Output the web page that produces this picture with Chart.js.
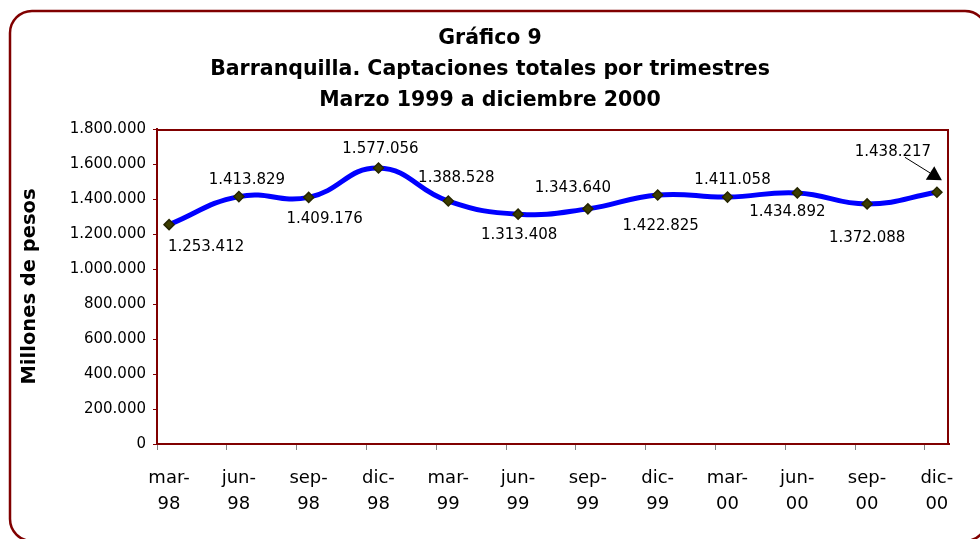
<!DOCTYPE html>
<html>
<head>
<meta charset="utf-8">
<script src="https://cdn.jsdelivr.net/npm/chart.js@4.4.1/dist/chart.umd.min.js"></script>
<style>
html,body{margin:0;padding:0;background:#ffffff;}
#wrap{width:980px;height:539px;position:relative;}
</style>
</head>
<body>
<div id="wrap"><canvas id="c" width="980" height="539"></canvas></div>
<script>
// ---- data ----
const categories = ['mar-98','jun-98','sep-98','dic-98','mar-99','jun-99','sep-99','dic-99','mar-00','jun-00','sep-00','dic-00'];
const captaciones = [1253412,1413829,1409176,1577056,1388528,1313408,1343640,1422825,1411058,1434892,1372088,1438217];
const yTickValues = [0,200000,400000,600000,800000,1000000,1200000,1400000,1600000,1800000];
const titleLines = ['Gráfico 9','Barranquilla. Captaciones totales por trimestres','Marzo 1999 a diciembre 2000'];
const yAxisTitle = 'Millones de pesos';

// ---- label placement (pixels relative to each point) ----
const labelOffsets = [[37,22],[8,-16],[16,22],[2,-19],[8,-23],[1,21],[-15,-21],[3,31],[5,-17],[-10,19],[0,34],[-44,-40]];
const arrowFrom = [-32,-35], arrowTip = [5,-12];

const FONT = '"DejaVu Sans", "Liberation Sans", Arial, sans-serif';
const RED = '#800000';
const EDGE = 0.173; // category edge padding (fraction of step)

function fmt(n){ return String(n).replace(/\B(?=(\d{3})+(?!\d))/g,'.'); }

const points = captaciones.map((v,i)=>({x:i, y:v}));

const decor = {
  id:'decor',
  beforeDraw(chart){
    const ctx = chart.ctx;
    ctx.save();
    ctx.strokeStyle = RED;
    ctx.lineWidth = 2.5;
    const x=10, y=11, w=977, h=530, r=22;
    ctx.beginPath();
    ctx.moveTo(x+r,y);
    ctx.lineTo(x+w-r,y);
    ctx.arcTo(x+w,y,x+w,y+r,r);
    ctx.lineTo(x+w,y+h-r);
    ctx.arcTo(x+w,y+h,x+w-r,y+h,r);
    ctx.lineTo(x+r,y+h);
    ctx.arcTo(x,y+h,x,y+h-r,r);
    ctx.lineTo(x,y+r);
    ctx.arcTo(x,y,x+r,y,r);
    ctx.closePath();
    ctx.stroke();
    ctx.restore();
  },
  beforeDatasetsDraw(chart){
    const a = chart.chartArea, ctx = chart.ctx;
    ctx.save();
    ctx.strokeStyle = RED;
    ctx.lineWidth = 2;
    ctx.beginPath();
    ctx.moveTo(a.left, a.top+1);
    ctx.lineTo(a.right-1, a.top+1);
    ctx.lineTo(a.right-1, a.bottom);
    ctx.stroke();
    ctx.restore();
  },
  afterDatasetsDraw(chart){
    const ctx = chart.ctx;
    const meta = chart.getDatasetMeta(0);
    ctx.save();
    ctx.fillStyle = '#000';
    ctx.font = '15px ' + FONT;
    ctx.textAlign = 'center';
    ctx.textBaseline = 'middle';
    meta.data.forEach((pt,i)=>{
      const o = labelOffsets[i];
      ctx.fillText(fmt(captaciones[i]), pt.x+o[0], pt.y+o[1]);
    });
    // arrow to last point
    const last = meta.data[meta.data.length-1];
    const sx = last.x+arrowFrom[0], sy = last.y+arrowFrom[1];
    const tx = last.x+arrowTip[0], ty = last.y+arrowTip[1];
    const ang = Math.atan2(ty-sy, tx-sx);
    const L = 14, W = 8;
    const bx = tx - L*Math.cos(ang), by = ty - L*Math.sin(ang);
    ctx.strokeStyle = '#000';
    ctx.lineWidth = 1;
    ctx.beginPath();
    ctx.moveTo(sx,sy);
    ctx.lineTo(bx,by);
    ctx.stroke();
    ctx.beginPath();
    ctx.moveTo(tx,ty);
    ctx.lineTo(bx + W*Math.sin(ang), by - W*Math.cos(ang));
    ctx.lineTo(bx - W*Math.sin(ang), by + W*Math.cos(ang));
    ctx.closePath();
    ctx.fill();
    ctx.restore();
  }
};

new Chart(document.getElementById('c'), {
  type:'line',
  data:{
    datasets:[{
      data: points,
      borderColor:'#0000FF',
      borderWidth:5,
      tension:0.45,
      pointStyle:'rectRot',
      pointRadius:5,
      pointBorderWidth:1.5,
      pointBackgroundColor:'#3d3d00',
      pointBorderColor:'#262600',
      fill:false
    }]
  },
  options:{
    responsive:false,
    animation:false,
    layout:{padding:{left:0,right:0,top:0,bottom:0}},
    plugins:{
      legend:{display:false},
      tooltip:{enabled:false},
      title:{
        display:true,
        text:titleLines,
        color:'#000',
        font:{family:FONT, size:20.5, weight:'bold', lineHeight:31/20.5},
        padding:{top:23.5, bottom:12.5}
      }
    },
    scales:{
      x:{
        type:'linear',
        min:-EDGE,
        max:categories.length-1+EDGE,
        afterBuildTicks(s){ s.ticks = categories.map((c,i)=>({value:i-EDGE})); },
        afterFit(s){ s.height = 95; },
        grid:{display:true, drawOnChartArea:false, drawTicks:true, tickLength:6, color:'#808080', tickColor:'#808080'},
        border:{display:true, color:RED, width:2},
        ticks:{
          autoSkip:false, maxRotation:0, minRotation:0,
          labelOffset:12,
          padding:15,
          color:'#000',
          font:{family:FONT, size:18, lineHeight:26/18},
          callback:(v,i)=>{ const p = categories[i].split('-'); return [p[0]+'-', p[1]]; }
        }
      },
      y:{
        type:'linear',
        min:0, max:1800000,
        afterBuildTicks(s){ s.ticks = yTickValues.map(v=>({value:v})); },
        afterFit(s){ s.width = 157; },
        grid:{display:true, drawOnChartArea:false, drawTicks:true, tickLength:4, color:RED, tickColor:RED},
        border:{display:true, color:RED, width:2},
        ticks:{padding:7, color:'#000', font:{family:FONT, size:15}, callback:v=>fmt(v)},
        title:{display:true, text:yAxisTitle, color:'#000', font:{family:FONT, size:19.5, weight:'bold', lineHeight:1.05}, padding:{top:20, bottom:0}}
      },
      yR:{
        type:'linear',
        position:'right',
        display:true,
        afterFit(s){ s.width = 31; },
        grid:{display:false, drawTicks:false},
        border:{display:false},
        ticks:{display:false}
      }
    }
  },
  plugins:[decor]
});
</script>
</body>
</html>
